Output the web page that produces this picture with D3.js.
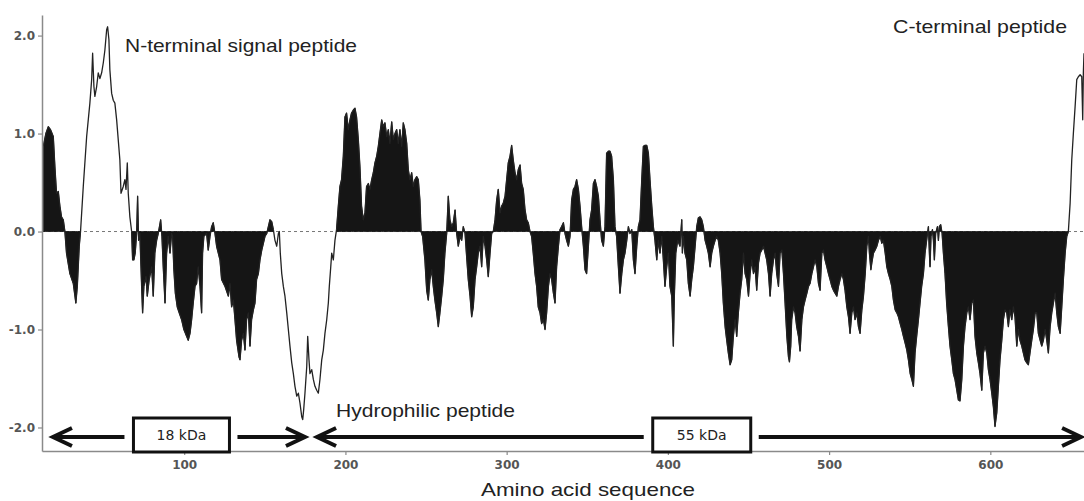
<!DOCTYPE html>
<html><head><meta charset="utf-8">
<script src="https://cdn.jsdelivr.net/npm/d3@7"></script>
<style>body{margin:0;background:#fff}svg{display:block}</style>
</head><body><svg id="c" width="1084" height="501"></svg>
<script>
// [residue, hydropathy]
const matureN = [[12.6,0.87],[14.2,1.0],[15.7,1.07],[17.1,1.04],[18.8,0.97],[19.8,0.66],[20.8,0.39],[21.9,0.41],[22.9,0.26],[23.9,0.15],[25.0,0.12],[26.0,0],[27.0,-0.22],[29.1,-0.43],[31.2,-0.53],[32.8,-0.73],[33.7,-0.56],[34.9,-0.15],[35.7,0]];
const signalPeptide = [[35.7,0],[37.4,0.46],[39.5,0.97],[41.5,1.31],[42.6,1.55],[43.2,1.82],[44.0,1.48],[44.6,1.38],[45.7,1.48],[46.7,1.62],[47.7,1.56],[48.8,1.62],[49.8,1.72],[50.8,1.85],[51.9,2.06],[52.5,2.09],[53.3,1.96],[53.9,1.65],[55.0,1.41],[56.0,1.34],[57.0,1.31],[58.1,1.14],[60.1,0.73],[60.8,0.39],[62.2,0.46],[63.2,0.53],[63.9,0.43],[64.7,0.70],[65.3,0.39],[66.3,0.15],[67.4,0]];
const domain18 = [[67.4,0],[68.0,-0.29],[68.8,-0.29],[69.6,-0.22],[70.5,-0.02],[71.1,0.36],[71.7,-0.09],[72.5,-0.02],[73.6,-0.56],[74.2,-0.83],[75.0,-0.56],[76.3,-0.46],[77.1,-0.66],[78.3,-0.49],[79.8,-0.36],[80.8,-0.66],[81.8,-0.22],[82.9,-0.09],[83.9,-0.02],[85.4,0.12],[86.2,-0.05],[87.0,-0.36],[88.1,-0.73],[89.1,-0.22],[90.1,-0.05],[91.2,-0.22],[92.2,-0.02],[92.8,-0.05],[93.6,-0.39],[94.5,-0.63],[95.7,-0.77],[96.9,-0.83],[98.4,-0.9],[99.8,-1.0],[101.5,-1.07],[102.5,-1.11],[103.6,-1.04],[104.6,-0.9],[105.6,-0.73],[106.7,-0.56],[107.7,-0.53],[108.7,-0.36],[109.8,-0.56],[110.8,-0.83],[111.4,-0.22],[112.2,-0.05],[113.9,-0.02],[114.9,-0.19],[116.0,-0.05],[117.0,0.05],[118.0,0.09],[119.1,-0.02],[120.1,-0.15],[122.2,-0.29],[123.2,-0.49],[125.3,-0.56],[127.4,-0.66],[128.4,-0.53],[129.4,-0.77],[130.5,-0.7],[131.5,-0.9],[132.5,-1.11],[134.0,-1.28],[134.6,-1.31],[135.6,-1.11],[136.7,-1.04],[137.7,-1.21],[138.7,-0.9],[139.8,-0.83],[140.8,-1.17],[141.8,-0.9],[142.9,-0.8],[143.9,-0.73],[144.9,-0.49],[146.0,-0.43],[147.0,-0.29],[148.1,-0.19],[149.1,-0.12],[150.1,-0.05],[151.2,-0.02],[152.2,0.05],[153.2,0.12],[154.3,0.1],[155.3,0.02]];
const hydrophilicLinker = [[155.3,0.02],[156.3,-0.09],[157.4,-0.15],[158.4,-0.02],[159.0,0],[159.6,-0.22],[160.5,-0.43],[161.5,-0.56],[162.5,-0.66],[163.6,-0.83],[164.6,-1.0],[165.6,-1.17],[166.7,-1.34],[167.7,-1.45],[168.7,-1.58],[169.8,-1.68],[170.8,-1.65],[171.8,-1.75],[172.9,-1.89],[173.5,-1.92],[174.1,-1.82],[174.9,-1.65],[176.0,-1.38],[176.6,-1.07],[177.4,-1.31],[178.0,-1.45],[179.1,-1.41],[180.1,-1.51],[181.1,-1.58],[182.2,-1.62],[183.2,-1.65],[184.2,-1.51],[185.3,-1.31],[186.3,-1.21],[187.3,-1.04],[188.4,-0.9],[189.4,-0.73],[190.0,-0.56],[190.9,-0.36],[191.5,-0.22],[192.5,-0.29],[193.5,-0.09],[194.5,0.02]];
const domain55 = [[194.5,0.02],[195.6,0.26],[196.6,0.46],[197.6,0.53],[198.7,0.77],[199.7,1.17],[200.7,1.21],[201.8,1.04],[202.8,1.14],[203.8,1.21],[204.9,1.24],[205.9,1.26],[206.9,1.17],[208.0,0.94],[209.0,0.66],[210.0,0.26],[211.1,0.12],[212.1,0.19],[213.1,0.46],[214.2,0.49],[215.2,0.43],[216.3,0.53],[217.3,0.6],[218.3,0.7],[219.4,0.77],[220.4,0.87],[221.4,1.0],[222.5,1.14],[223.5,1.07],[224.5,1.11],[225.6,0.97],[226.6,1.04],[227.6,0.9],[228.7,1.12],[229.7,0.94],[230.7,1.0],[231.8,1.04],[232.8,0.9],[233.8,1.04],[234.9,0.87],[235.9,1.11],[236.9,1.04],[238.0,0.9],[239.0,0.63],[240.0,0.53],[241.1,0.6],[242.1,0.46],[243.1,0.53],[244.2,0.56],[245.2,0.53],[246.2,0.32],[246.9,0],
[247.9,-0.05],[249.3,-0.29],[250.4,-0.6],[251.4,-0.7],[252.4,-0.49],[253.5,-0.39],[254.5,-0.56],[255.5,-0.7],[256.6,-0.83],[257.6,-0.97],[258.6,-0.83],[259.7,-0.66],[260.7,-0.49],[261.7,-0.22],[262.8,-0.02],[263.8,0.36],[264.8,0.12],[265.9,0.05],[266.9,0.09],[268.0,0.22],[269.0,-0.02],[270.0,-0.15],[271.1,-0.05],[272.1,-0.09],[273.1,0.05],[274.2,-0.02],[275.2,-0.26],[276.2,-0.49],[277.3,-0.66],[278.3,-0.87],[279.3,-0.77],[280.4,-0.49],[281.4,-0.36],[282.4,-0.22],[283.5,-0.15],[284.5,-0.36],[285.5,-0.05],[286.6,-0.15],[287.6,-0.29],[288.6,-0.46],[289.7,-0.22],[290.7,-0.02],[291.7,0],
[292.8,0.12],[293.8,0.32],[294.8,0.43],[295.9,0.19],[296.9,0.26],[297.9,0.29],[299.0,0.36],[300.0,0.53],[301.0,0.7],[302.1,0.77],[303.1,0.88],[304.1,0.73],[305.2,0.6],[306.2,0.53],[307.2,0.63],[308.3,0.68],[309.3,0.49],[310.3,0.43],[311.4,0.22],[312.4,0.12],[313.4,0.09],[314.5,0],
[315.5,-0.05],[316.5,-0.22],[317.6,-0.43],[318.6,-0.56],[319.6,-0.77],[320.7,-0.83],[321.7,-0.94],[322.8,-0.9],[323.8,-1.0],[324.8,-0.83],[325.9,-0.56],[326.9,-0.43],[327.9,-0.49],[329.0,-0.63],[330.0,-0.73],[331.0,-0.36],[332.1,-0.15],[333.1,0.02],[334.1,0.05],[335.2,0.09],[336.2,-0.02],[337.2,-0.09],[338.3,-0.15],[339.3,-0.05],
[340.3,0.32],[341.4,0.43],[342.4,0.46],[343.4,0.53],[344.5,0.43],[345.5,0.26],[346.5,0.05],[347.6,-0.15],[348.6,-0.39],[349.6,-0.43],[350.7,-0.15],[351.7,0.12],[352.7,0.22],[353.8,0.49],[354.8,0.53],[355.8,0.46],[356.9,0.36],[357.9,0.12],[358.9,-0.09],[360.0,-0.15],[361.0,0.05],[362.0,0.8],[363.1,0.82],[364.1,0.82],[365.1,0.77],[366.2,0.53],[367.2,0.05],[368.2,-0.05],[369.3,-0.36],[370.3,-0.63],[371.4,-0.43],[372.4,-0.29],[373.4,-0.22],[374.5,-0.09],[375.5,0.05],[376.5,-0.02],[377.6,0.02],[378.6,-0.29],[379.6,-0.43],[380.7,-0.15],[381.7,0.05],[382.7,0.12],[383.8,0.53],[384.8,0.87],[385.8,0.88],[386.9,0.88],[387.9,0.8],[388.9,0.53],[390.0,0.26],[391.0,0.05],[392.0,-0.09],
[393.1,-0.29],[394.1,-0.09],[395.1,-0.22],[396.2,-0.05],[397.2,-0.29],[398.2,-0.56],[399.3,-0.36],[400.3,-0.22],[401.3,-0.56],[402.4,-0.66],[403.4,-1.17],[404.0,-0.66],[404.9,-0.22],[406.1,-0.09],[407.5,-0.15],[408.6,0.12],[409.0,-0.22],[409.6,-0.05],[410.6,-0.22],[411.7,-0.29],[412.7,-0.53],[413.8,-0.66],[414.8,-0.49],[415.8,-0.36],[416.9,-0.15],[417.9,0.05],[418.9,0.14],[420.0,0.15],[421.0,0.12],[422.0,0.05],[423.1,-0.09],[424.1,-0.15],[425.1,-0.22],[426.2,-0.36],[427.2,-0.22],[428.2,-0.15],[429.3,-0.09],[430.3,-0.05],[431.3,-0.09],[432.4,-0.22],[433.4,-0.43],[434.4,-0.73],[435.5,-0.97],[436.5,-1.11],[437.5,-1.24],[438.6,-1.36],[439.6,-1.31],[440.6,-1.07],[441.7,-0.9],[442.7,-1.07],[443.7,-0.83],[444.8,-0.63],[445.8,-0.49],
[446.9,-0.22],[447.9,-0.43],[448.9,-0.49],[450.0,-0.66],[451.0,-0.43],[452.0,-0.29],[453.1,-0.43],[454.1,-0.36],[455.1,-0.6],[456.2,-0.32],[457.2,-0.22],[458.2,-0.19],[459.3,-0.15],[460.3,-0.22],[461.3,-0.29],[462.4,-0.43],[463.4,-0.66],[464.4,-0.43],[465.5,-0.29],[466.5,-0.22],[467.5,-0.43],[468.6,-0.56],[469.6,-0.22],[470.7,-0.19],[471.7,-0.43],[472.7,-0.73],[473.8,-1.07],[474.8,-1.28],[475.4,-1.33],[476.2,-1.17],[476.8,-0.9],[477.9,-0.77],[478.9,-0.83],[479.9,-0.97],[481.0,-1.07],[482.0,-1.22],[483.1,-0.9],[484.1,-0.77],[485.1,-0.7],[486.2,-0.63],[487.2,-0.56],[488.2,-0.53],[489.3,-0.43],[490.3,-0.36],[491.3,-0.29],[492.4,-0.36],[493.4,-0.53],[494.4,-0.6],[495.5,-0.22],[496.5,-0.19],[497.5,-0.29],[498.6,-0.36],[499.6,-0.43],[500.6,-0.49],[501.7,-0.56],[502.7,-0.6],[503.7,-0.63],[504.8,-0.66],[505.8,-0.56],[506.8,-0.49],[507.9,-0.43],[508.9,-0.49],[509.9,-0.6],[511.0,-0.77],[512.0,-0.87],[513.0,-1.04],[514.1,-0.83],[515.1,-0.77],[516.1,-0.9],[517.2,-0.83],[518.2,-0.97],[519.2,-1.04],[520.3,-0.8],[521.3,-0.66],[522.4,-0.43],[523.4,-0.15],[524.4,-0.05],[525.0,-0.22],[525.9,-0.39],[526.5,-0.32],[527.5,-0.22],[528.5,-0.19],[529.6,-0.15],[530.6,-0.09],[531.7,-0.05],[532.7,-0.12],[533.7,-0.09],[534.8,-0.22],[535.8,-0.36],[536.8,-0.43],[537.9,-0.49],[538.9,-0.56],[539.9,-0.7],[541.0,-0.8],[542.0,-0.83],[543.0,-0.87],[544.1,-0.94],[545.1,-1.0],[546.1,-1.07],[547.2,-1.14],[548.2,-1.21],[549.2,-1.31],[550.3,-1.45],[551.3,-1.51],[552.3,-1.58],
[553.3,-1.24],[554.3,-1.07],[555.4,-0.9],[556.4,-0.73],[557.4,-0.56],[558.5,-0.43],[559.5,-0.22],[560.5,-0.09],[561.6,0.05],[562.2,-0.22],[562.6,-0.36],[563.2,-0.05],[564.1,0.02],[564.7,-0.09],[565.3,-0.29],[566.1,-0.02],[567.2,0.05],[567.8,-0.09],[568.4,0.05],[569.2,0.07],[570.1,-0.02],[570.9,-0.22],[571.9,-0.43],[572.9,-0.73],[574.0,-0.97],[575.0,-1.17],[576.1,-1.31],[577.1,-1.45],[578.1,-1.51],[579.2,-1.62],[580.2,-1.72],[581.2,-1.73],[582.3,-1.51],[583.3,-1.17],[584.3,-0.97],[585.4,-0.83],[586.4,-0.77],[587.4,-0.9],[588.5,-0.73],[589.5,-0.7],[590.5,-1.07],[591.6,-1.24],[592.6,-1.34],[593.6,-1.45],[594.7,-1.62],[595.7,-1.24],[596.7,-1.17],[597.8,-1.24],[598.8,-1.41],[599.8,-1.51],[600.9,-1.65],[601.9,-1.79],[602.9,-1.99],[604.0,-1.85],[605.0,-1.58],[606.0,-1.31],[607.1,-1.11],[608.1,-0.9],[609.1,-0.8],[610.2,-0.83],[611.2,-0.97],[612.2,-0.8],[613.3,-0.9],[614.3,-0.77],[615.3,-0.87],[616.4,-1.17],[617.4,-1.0],[618.4,-1.11],[619.5,-1.17],[620.5,-1.24],[621.5,-1.31],[622.6,-1.34],[623.6,-1.36],[624.6,-1.24],[625.7,-1.11],[626.7,-1.0],[627.8,-0.83],[628.8,-0.83],[629.8,-1.04],[630.9,-1.11],[631.9,-1.17],[632.9,-1.11],[634.0,-1.0],[635.0,-1.11],[636.0,-1.24],[637.1,-0.97],[638.1,-0.83],[639.1,-0.73],[640.2,-0.63],[641.2,-0.83],[642.2,-0.97],[643.3,-1.04],[644.3,-0.77],[645.3,-0.49],[646.4,-0.22],[647.4,-0.05],[648.4,0]];
const cTermPeptide = [[648.4,0],[649.5,0.29],[650.5,0.73],[651.5,1.0],[652.6,1.28],[653.6,1.55],[654.6,1.58],[655.7,1.6],[656.7,1.58],[657.3,1.14],[657.7,1.62],[658.1,1.82]];

const segments = [
  {data: matureN, filled: true},
  {data: signalPeptide, filled: false},
  {data: domain18, filled: true},
  {data: hydrophilicLinker, filled: false},
  {data: domain55, filled: true},
  {data: cTermPeptide, filled: false}
];
const yTicks = [-2, -1, 0, 1, 2];
const xTicks = [100, 200, 300, 400, 500, 600];
const regionLabels = [
  {text: "N-terminal signal peptide", x: 125, y: 52, len: 232},
  {text: "C-terminal peptide", x: 893, y: 33, len: 174},
  {text: "Hydrophilic peptide", x: 336, y: 417, len: 179}
];
const domainSpans = [
  {label: "18 kDa", from: 18.6, to: 174.9, box: 98.3, boxW: 96},
  {label: "55 kDa", from: 182.4, to: 656.3, box: 421.0, boxW: 98}
];
const xTitle = "Amino acid sequence";

const svg = d3.select("#c");
const x = d3.scaleLinear().domain([11.8, 658.1]).range([42, 1084]);
const y = d3.scaleLinear().domain([-2.24, 2.21]).range([451, 15]);

// zero reference line
svg.append("line").attr("x1", x.range()[0]).attr("x2", x.range()[1])
  .attr("y1", y(0)).attr("y2", y(0))
  .attr("stroke", "#777").attr("stroke-width", 1).attr("stroke-dasharray", "3,3");

const area = d3.area().x(d => x(d[0])).y0(y(0)).y1(d => y(d[1]));
const line = d3.line().x(d => x(d[0])).y(d => y(d[1]));

segments.filter(s => s.filled).forEach(s => {
  svg.append("path").datum(s.data).attr("d", area)
    .attr("fill", "#151515").attr("stroke", "#151515").attr("stroke-width", 0.8);
});
segments.forEach(s => {
  svg.append("path").datum(s.data).attr("d", line)
    .attr("fill", "none").attr("stroke", "#222").attr("stroke-width", 1.3)
    .attr("stroke-linejoin", "round");
});

// axes
const fmt = d => d.toFixed(1);
const gy = svg.append("g").attr("transform", `translate(${x.range()[0]},0)`)
  .call(d3.axisLeft(y).tickValues(yTicks).tickFormat(fmt).tickSize(4).tickSizeOuter(0).tickPadding(3));
const gx = svg.append("g").attr("transform", `translate(0,${y.range()[0]})`)
  .call(d3.axisBottom(x).tickValues(xTicks).tickSize(4).tickSizeOuter(0).tickPadding(5));
[gy, gx].forEach(g => {
  g.select(".domain").attr("stroke", "#8a8a8a").attr("stroke-width", 1.5);
  g.selectAll(".tick line").attr("stroke", "#8a8a8a").attr("stroke-width", 1.2);
  g.selectAll(".tick text").attr("font-family", "DejaVu Sans").attr("font-size", 12)
    .attr("font-weight", "bold").attr("fill", "#555");
});

// region labels
regionLabels.forEach(l => {
  svg.append("text").attr("x", l.x).attr("y", l.y).text(l.text)
    .attr("font-family", "Liberation Sans, Arial, sans-serif").attr("font-size", 19)
    .attr("fill", "#222").attr("textLength", l.len).attr("lengthAdjust", "spacingAndGlyphs");
});
svg.append("text").attr("x", 481).attr("y", 496).text(xTitle)
  .attr("font-family", "Liberation Sans, Arial, sans-serif").attr("font-size", 19)
  .attr("fill", "#222").attr("textLength", 214).attr("lengthAdjust", "spacingAndGlyphs");

// domain arrows with boxes
const ay = 437, head = 19, hw = 9;
domainSpans.forEach(d => {
  const x0 = x(d.from), x1 = x(d.to), xc = x(d.box);
  const bl = xc - d.boxW / 2, br = xc + d.boxW / 2;
  const g = svg.append("g").attr("stroke", "#111").attr("stroke-width", 4).attr("fill", "none");
  g.append("line").attr("x1", x0 + 2).attr("x2", bl - 9).attr("y1", ay).attr("y2", ay);
  g.append("line").attr("x1", br + 8).attr("x2", x1 - 2).attr("y1", ay).attr("y2", ay);
  g.append("path").attr("d", `M${x0 + head},${ay - hw}L${x0},${ay}L${x0 + head},${ay + hw}`)
    .attr("stroke-linejoin", "miter");
  g.append("path").attr("d", `M${x1 - head},${ay - hw}L${x1},${ay}L${x1 - head},${ay + hw}`)
    .attr("stroke-linejoin", "miter");
  svg.append("rect").attr("x", bl).attr("y", 418).attr("width", d.boxW).attr("height", 34)
    .attr("fill", "#fff").attr("stroke", "#111").attr("stroke-width", 3);
  svg.append("text").attr("x", xc).attr("y", 440).attr("text-anchor", "middle").text(d.label)
    .attr("font-family", "DejaVu Sans").attr("font-size", 14).attr("fill", "#222");
});
</script></body></html>
